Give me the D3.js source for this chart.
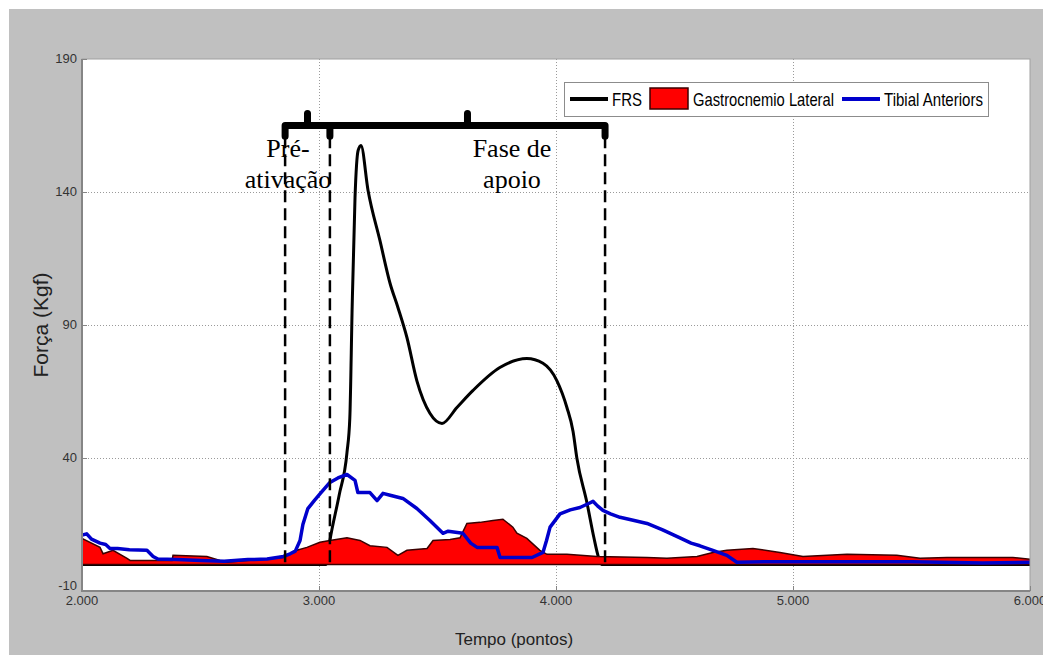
<!DOCTYPE html>
<html>
<head>
<meta charset="utf-8">
<script src="https://cdn.jsdelivr.net/npm/d3@7"></script>
<style>
  body { margin: 0; background: #fff; }
  svg { display: block; }
</style>
</head>
<body>
<div id="chart"></div>
<script>
// values (tempo in pontos, força in Kgf)

const xTicks = [2000, 3000, 4000, 5000, 6000];
const yTicks = [-10, 40, 90, 140, 190];
const gridX = [3000, 4000, 5000];
const gridY = [40, 90, 140];

const frsT = [2000, 3000, 3030, 3046, 3085, 3118, 3130, 3140, 3152, 3165, 3177, 3207, 3257, 3300, 3333, 3371, 3413, 3468, 3519, 3582, 3650, 3763, 3877, 3945, 4004, 4046, 4072, 4088, 4131, 4160, 4177, 4192, 6000];
const frsV = [0, 0, 0, 9, 26, 42, 55, 97, 138, 155.6, 157.5, 140.6, 121.8, 105.6, 96.6, 85.3, 69, 56.8, 53, 59, 65.4, 74, 77.4, 75.6, 69, 59, 50, 40, 23, 10, 3.4, 0, 0];

const gastroT = [2000, 2076, 2089, 2131, 2190, 2203, 2380, 2384, 2527, 2582, 2612, 2848, 2907, 2949, 3004, 3046, 3118, 3173, 3215, 3287, 3333, 3371, 3456, 3481, 3553, 3595, 3624, 3679, 3734, 3776, 3818, 3835, 3877, 3932, 3962, 4046, 4173, 4384, 4468, 4595, 4662, 4721, 4831, 4945, 5042, 5228, 5438, 5536, 5650, 5928, 6000];
const gastroV = [9.8, 6.4, 4, 5.3, 2.3, 1.5, 1.5, 3.4, 3, 1.5, 0.8, 2.6, 5.3, 6.4, 8.3, 9, 10, 9, 7, 6.4, 3.4, 5.3, 6, 9, 9.4, 10, 15.4, 15.8, 16.5, 17, 14, 11.7, 9.8, 5.3, 3.8, 3.8, 3, 2.6, 2.3, 3, 4.5, 5.3, 6, 4.5, 3, 3.8, 3.4, 2.3, 2.6, 2.6, 1.9];

const tibT = [2000, 2020, 2040, 2076, 2100, 2118, 2150, 2200, 2274, 2300, 2320, 2400, 2500, 2600, 2700, 2781, 2850, 2878, 2900, 2920, 2932, 2953, 2980, 3004, 3046, 3080, 3118, 3152, 3164, 3215, 3245, 3270, 3300, 3354, 3413, 3468, 3523, 3545, 3607, 3640, 3667, 3751, 3764, 3899, 3945, 3960, 3975, 4017, 4060, 4101, 4140, 4156, 4175, 4198, 4230, 4270, 4330, 4384, 4450, 4523, 4570, 4607, 4662, 4721, 4763, 4900, 5200, 5500, 5800, 6000];
const tibV = [11, 11.5, 9.5, 8, 7.5, 6, 6, 5.5, 5.3, 3, 2, 1.8, 1.5, 1.2, 1.8, 2, 3, 4, 5, 9, 15, 21, 24, 26.5, 30.8, 32.5, 33.8, 31.6, 27, 27, 24, 26.7, 26, 24.8, 21, 16.5, 11.7, 12.5, 11.7, 8, 6.4, 6.4, 2.6, 2.6, 4.5, 9, 14, 19, 20.5, 21.4, 23, 23.7, 22, 20.3, 19, 17.7, 16.5, 15.4, 13, 10, 8, 7, 5.3, 3.4, 0.8, 1, 1, 1, 0.5, 0.8];

// phase limits (pré-ativação start, contato, fim do apoio) and brace level
const phaseT = [2857, 3046, 4207];
const braceLevel = 165;
const phaseLabels = [["Pré-", "ativação"], ["Fase de", "apoio"]];

const legendNames = ["FRS", "Gastrocnemio Lateral", "Tibial Anteriors"];
const colors = { frs: "#000000", gastro: "#ff0000", gastroEdge: "#3c0000", tib: "#0000cc" };

const width = 1043;
const height = 655;
const margin = { top: 59, right: 13, bottom: 64, left: 82 };

const ptFmt = d3.formatLocale({ decimal: ",", thousands: ".", grouping: [3], currency: ["R$", ""] }).format(",.0f");

const x = d3.scaleLinear().domain([2000, 6000]).range([margin.left, width - margin.right]);
const y = d3.scaleLinear().domain([-10, 190]).range([height - margin.bottom, margin.top]);

const svg = d3.select("#chart").append("svg")
    .attr("width", width)
    .attr("height", height)
    .attr("viewBox", [0, 0, width, height]);

svg.append("rect")
    .attr("x", 9).attr("y", 9)
    .attr("width", width - 9).attr("height", height - 9)
    .attr("fill", "#c0c0c0");

svg.append("rect")
    .attr("x", x(2000)).attr("y", y(190))
    .attr("width", x(6000) - x(2000)).attr("height", y(-10) - y(190))
    .attr("fill", "#fff");

svg.append("clipPath").attr("id", "plot")
  .append("rect")
    .attr("x", x(2000)).attr("y", y(190))
    .attr("width", x(6000) - x(2000)).attr("height", y(-10) - y(190));

// dotted grid
svg.append("g")
    .attr("stroke", "#9a9a9a")
    .attr("stroke-width", 1)
    .attr("stroke-dasharray", "1,2")
  .call(g => g.selectAll(".gx").data(gridX).join("line")
      .attr("x1", d => x(d) + 0.5).attr("x2", d => x(d) + 0.5)
      .attr("y1", y(190)).attr("y2", y(-10)))
  .call(g => g.selectAll(".gy").data(gridY).join("line")
      .attr("x1", x(2000)).attr("x2", x(6000))
      .attr("y1", d => y(d) + 0.5).attr("y2", d => y(d) + 0.5));

const plot = svg.append("g").attr("clip-path", "url(#plot)");

const frs = d3.zip(frsT, frsV);
const gastro = d3.zip(gastroT, gastroV);
const tib = d3.zip(tibT, tibV);

plot.append("path")
    .datum(frs)
    .attr("fill", "none")
    .attr("stroke", colors.frs)
    .attr("stroke-width", 3)
    .attr("stroke-linejoin", "round")
    .attr("d", d3.line().x(d => x(d[0])).y(d => y(d[1])).curve(d3.curveMonotoneX));

plot.append("path")
    .datum(gastro)
    .attr("fill", colors.gastro)
    .attr("stroke", colors.gastroEdge)
    .attr("stroke-width", 1.5)
    .attr("d", d3.area().x(d => x(d[0])).y0(y(0)).y1(d => y(d[1])));

plot.append("path")
    .datum(tib)
    .attr("fill", "none")
    .attr("stroke", colors.tib)
    .attr("stroke-width", 3.5)
    .attr("stroke-linejoin", "round")
    .attr("d", d3.line().x(d => x(d[0])).y(d => y(d[1])));

// dashed phase limits
svg.append("g")
    .attr("stroke", "#000")
    .attr("stroke-width", 2.5)
    .attr("stroke-dasharray", "12,6")
  .selectAll("line")
  .data(phaseT)
  .join("line")
    .attr("x1", d => x(d)).attr("x2", d => x(d))
    .attr("y1", y(braceLevel - 4)).attr("y2", y(-1));

// braces
const bp = d3.path();
const barY = y(braceLevel), hookY = y(braceLevel - 4), bumpY = y(braceLevel + 4.5);
bp.moveTo(x(phaseT[0]), hookY);
bp.lineTo(x(phaseT[0]), barY);
bp.lineTo(x(phaseT[2]), barY);
bp.lineTo(x(phaseT[2]), hookY);
bp.moveTo(x(phaseT[1]), barY);
bp.lineTo(x(phaseT[1]), hookY);
[ (phaseT[0] + phaseT[1]) / 2, (phaseT[1] + phaseT[2]) / 2 ].forEach(m => {
  bp.moveTo(x(m), barY);
  bp.lineTo(x(m), bumpY);
});
svg.append("path")
    .attr("d", bp.toString())
    .attr("fill", "none")
    .attr("stroke", "#000")
    .attr("stroke-width", 7)
    .attr("stroke-linecap", "round")
    .attr("stroke-linejoin", "round");

// phase labels
const labelCx = [288, 512];
svg.append("g")
    .attr("font-family", "'Liberation Serif', 'Times New Roman', serif")
    .attr("font-size", 26)
    .attr("text-anchor", "middle")
    .attr("fill", "#000")
  .selectAll("text")
  .data(phaseLabels)
  .join("text")
    .attr("x", (d, i) => labelCx[i])
    .attr("y", 157)
  .selectAll("tspan")
  .data(d => d)
  .join("tspan")
    .attr("x", function () { return this.parentNode.getAttribute("x"); })
    .attr("dy", (d, i) => i ? 31 : 0)
    .text(d => d);

// legend (condensed text, as in the original figure)
const lg = svg.append("g")
    .attr("font-family", "'Liberation Sans', Arial, sans-serif")
    .attr("font-size", 19)
    .attr("fill", "#000");
lg.append("rect")
    .attr("x", 564.5).attr("y", 82.5)
    .attr("width", 424).attr("height", 34)
    .attr("fill", "#fff")
    .attr("stroke", "#8c8c8c");
lg.append("line")
    .attr("x1", 570).attr("x2", 608).attr("y1", 99).attr("y2", 99)
    .attr("stroke", colors.frs).attr("stroke-width", 4);
lg.append("rect")
    .attr("x", 650).attr("y", 88).attr("width", 38).attr("height", 21)
    .attr("fill", colors.gastro).attr("stroke", colors.gastroEdge).attr("stroke-width", 1.5);
lg.append("line")
    .attr("x1", 842).attr("x2", 880).attr("y1", 99).attr("y2", 99)
    .attr("stroke", colors.tib).attr("stroke-width", 4);
lg.selectAll("text")
  .data(legendNames)
  .join("text")
    .attr("x", (d, i) => [612, 693, 884][i])
    .attr("y", 106)
    .attr("textLength", (d, i) => [30, 141, 99][i])
    .attr("lengthAdjust", "spacingAndGlyphs")
    .text(d => d);

// axes frame
svg.append("rect")
    .attr("x", x(2000)).attr("y", y(190))
    .attr("width", x(6000) - x(2000)).attr("height", y(-10) - y(190))
    .attr("fill", "none")
    .attr("stroke", "#a0a0a0");
svg.append("path")
    .attr("d", `M${x(2000)},${y(190)}V${y(-10)}H${x(6000)}`)
    .attr("fill", "none")
    .attr("stroke", "#858585")
    .attr("stroke-width", 2);

// ticks
svg.append("g")
    .attr("stroke", "#858585")
  .call(g => g.selectAll(".tx").data(xTicks).join("line")
      .attr("x1", d => x(d) + 0.5).attr("x2", d => x(d) + 0.5)
      .attr("y1", y(-10)).attr("y2", y(-10) - 5))
  .call(g => g.selectAll(".ty").data(yTicks).join("line")
      .attr("x1", x(2000)).attr("x2", x(2000) + 5)
      .attr("y1", d => y(d) + 0.5).attr("y2", d => y(d) + 0.5));

svg.append("g")
    .attr("font-family", "'Liberation Sans', Arial, sans-serif")
    .attr("font-size", 13)
    .attr("fill", "#333")
    .attr("text-anchor", "middle")
  .selectAll("text")
  .data(xTicks)
  .join("text")
    .attr("x", d => x(d))
    .attr("y", 605)
    .text(d => ptFmt(d));

svg.append("g")
    .attr("font-family", "'Liberation Sans', Arial, sans-serif")
    .attr("font-size", 13)
    .attr("fill", "#333")
    .attr("text-anchor", "end")
  .selectAll("text")
  .data(yTicks)
  .join("text")
    .attr("x", 77)
    .attr("y", d => y(d) + (d === -10 ? -1 : 4))
    .text(d => d);

// axis titles
svg.append("text")
    .attr("x", 514)
    .attr("y", 645)
    .attr("text-anchor", "middle")
    .attr("font-family", "'Liberation Sans', Arial, sans-serif")
    .attr("font-size", 17)
    .attr("fill", "#222")
    .text("Tempo (pontos)");

svg.append("text")
    .attr("transform", `translate(48,${(y(190) + y(-10)) / 2}) rotate(-90)`)
    .attr("text-anchor", "middle")
    .attr("font-family", "'Liberation Sans', Arial, sans-serif")
    .attr("font-size", 21)
    .attr("fill", "#222")
    .text("Força (Kgf)");
</script>
</body>
</html>
